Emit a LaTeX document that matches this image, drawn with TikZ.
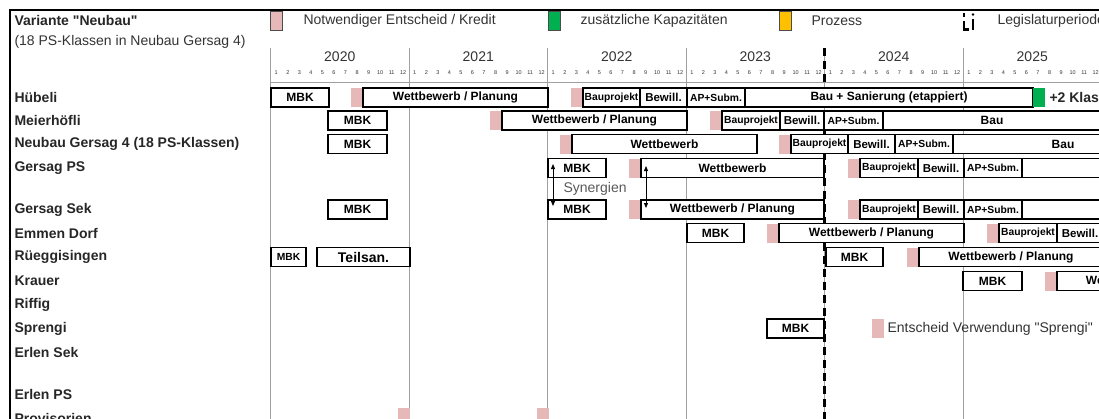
\documentclass[tikz,border=0pt]{standalone}
\usepackage{fontspec}
\setmainfont{Liberation Sans}[Ligatures=TeXOff]
\usetikzlibrary{arrows.meta}

\definecolor{kredit}{RGB}{230,184,183}
\definecolor{kapaz}{RGB}{0,176,80}
\definecolor{prozess}{RGB}{255,192,0}
\definecolor{raster}{RGB}{160,160,160}

% phase bar from x1 to x2 in row y
\newcommand{\phase}[6][]{%
  \node[phasebox,minimum width={#4pt-#3pt},#1] (#2) at ({(#3+#4)/2},#5) {#6};}
% decision mark, left edge at x
\newcommand{\kredit}[3]{%
  \node[kreditbox,anchor=west] (#1) at (#2,#3) {};}

\begin{document}
\begin{tikzpicture}[x=1pt,y=-1pt,
  phasebox/.style={draw,line width=1.4pt,fill=white,minimum height=19pt,inner sep=0pt,
    font=\bfseries\fontsize{12}{13}\selectfont},
  klein/.style={font=\bfseries\fontsize{10.3}{11}\selectfont},
  mittel/.style={font=\bfseries\fontsize{11.5}{12}\selectfont},
  kreditbox/.style={fill=kredit,minimum width=12pt,minimum height=19pt,inner sep=0pt},
  legende/.style={draw=black!70,line width=0.8pt,minimum width=12pt,minimum height=19pt,inner sep=0pt},
  zeile/.style={anchor=west,text=black!85,font=\bfseries\fontsize{14}{16}\selectfont},
  txt/.style={anchor=west,text=black!80,font=\fontsize{14}{16}\selectfont},
  raster/.style={draw=raster,line width=0.8pt},
  synergie/.style={{Triangle[width=4pt,length=5pt]}-{Triangle[width=4pt,length=5pt]},line width=0.8pt}]

\useasboundingbox (0,0) rectangle (1099,418);
\clip (0,0) rectangle (1099,418);

% frame
\draw[line width=1.8pt] (1100,10) -- (10,10) -- (10,420);

% title
\node[zeile] (titel) at (11,20) {Variante "Neubau"};
\node[txt] (untertitel) at (11,42) {(18 PS-Klassen in Neubau Gersag 4)};

% legend
\node[legende,fill=kredit] (lk) at (276.5,21) {};
\node[txt] (lkt) at (300,21) {Notwendiger Entscheid / Kredit};
\node[legende,fill=kapaz] (lg) at (554,21) {};
\node[txt] (lgt) at (577,21) {zusätzliche Kapazitäten};
\node[legende,fill=prozess] (lp) at (785,21) {};
\node[txt] (lpt) at (808,21) {Prozess};
\draw[line width=2.5pt] (964,13) -- (964,17);
\draw[line width=2.5pt] (964,21) -- (964,29.5) -- (969,29.5);
\draw[line width=2pt] (973,19) -- (973,30);
\fill (973,14.5) circle (1.3pt);
\node[txt] (llt) at (994,21) {Legislaturperiode};

% years and months
\foreach \j [count=\i from 0] in {2020,...,2025} {
  \draw[raster] (270.5+138.5*\i,48) -- (270.5+138.5*\i,420);
  \node[text=black!80,font=\fontsize{14}{16}\selectfont] (j\j) at (270.5+138.5*\i+69.25,57) {\j};
  \foreach \m in {1,...,12}
    \node[text=black!80,font=\fontsize{5.5}{6}\selectfont,inner sep=0pt] (m\j-\m)
      at (270.5+138.5*\i+11.54*\m-5.77,73) {\m};
}
\draw[raster] (270.5,82) -- (1100,82);
\draw[line width=3pt,dash pattern=on 8pt off 5pt] (824.5,48) -- (824.5,420);

% row labels
\foreach \name/\y [count=\i] in {Hübeli/97, Meierhöfli/120.5, {Neubau Gersag 4 (18 PS-Klassen)}/144,
    Gersag PS/168, Gersag Sek/209.5, Emmen Dorf/233, Rüeggisingen/257, Krauer/281,
    Riffig/305, Sprengi/328.5, Erlen Sek/352, Erlen PS/394, Provisorien/418}
  \node[zeile] (z\i) at (11,\y) {\name};

% Hübeli
\phase{h1}{271}{329}{97.5}{MBK}
\kredit{hk1}{351}{97.5}
\phase{h2}{363}{548}{97.5}{Wettbewerb / Planung}
\kredit{hk2}{571}{97.5}
\phase[klein]{h3}{583}{640}{97.5}{Bauprojekt}
\phase[mittel]{h4}{640}{687}{97.5}{Bewill.}
\phase[klein]{h5}{687}{745}{97.5}{AP+Subm.}
\phase{h6}{745}{1033}{97.5}{Bau + Sanierung (etappiert)}
\node[kreditbox,fill=kapaz,anchor=west] (hg) at (1033,97.5) {};
\node[zeile] (hplus) at (1046,97.5) {+2 Klassen};

% Meierhöfli
\phase{mh1}{328}{387}{120.5}{MBK}
\kredit{mk1}{490}{120.5}
\phase{mh2}{502}{687}{120.5}{Wettbewerb / Planung}
\kredit{mk2}{710}{120.5}
\phase[klein]{mh3}{722}{780}{120.5}{Bauprojekt}
\phase[mittel]{mh4}{780}{824}{120.5}{Bewill.}
\phase[klein]{mh5}{824}{883}{120.5}{AP+Subm.}
\phase{mh6}{883}{1101}{120.5}{Bau}

% Neubau Gersag 4
\phase{n1}{328}{387}{144}{MBK}
\kredit{nk1}{560}{144}
\phase{n2}{572}{757}{144}{Wettbewerb}
\kredit{nk2}{779}{144}
\phase[klein]{n3}{791}{848}{144}{Bauprojekt}
\phase[mittel]{n4}{848}{895}{144}{Bewill.}
\phase[klein]{n5}{895}{953}{144}{AP+Subm.}
\phase{n6}{953}{1173}{144}{Bau}

% Gersag PS
\phase{gp1}{548}{606}{168}{MBK}
\kredit{gpk1}{629}{168}
\phase{gp2}{641}{824}{168}{Wettbewerb}
\kredit{gpk2}{848}{168}
\phase[klein]{gp3}{860}{918}{168}{Bauprojekt}
\phase[mittel]{gp4}{918}{964}{168}{Bewill.}
\phase[klein]{gp5}{964}{1022}{168}{AP+Subm.}
\phase{gp6}{1022}{1140}{168}{}

% Gersag Sek
\phase{gs0}{328}{387}{209.5}{MBK}
\phase{gs1}{548}{606}{209.5}{MBK}
\kredit{gsk1}{629}{209.5}
\phase{gs2}{641}{824}{209.5}{Wettbewerb / Planung}
\kredit{gsk2}{848}{209.5}
\phase[klein]{gs3}{860}{918}{209.5}{Bauprojekt}
\phase[mittel]{gs4}{918}{964}{209.5}{Bewill.}
\phase[klein]{gs5}{964}{1022}{209.5}{AP+Subm.}
\phase{gs6}{1022}{1140}{209.5}{}

% Synergien
\coordinate (sy1) at (553,164);
\coordinate (sy2) at (553,206);
\coordinate (sy3) at (646,166);
\coordinate (sy4) at (646,208);
\draw[synergie] (sy1) -- (sy2);
\draw[synergie] (sy3) -- (sy4);
\node[txt,text=black!65] (syn) at (560,189) {Synergien};

% Emmen Dorf
\phase{e1}{687}{744}{233}{MBK}
\kredit{ek1}{767}{233}
\phase{e2}{779}{964}{233}{Wettbewerb / Planung}
\kredit{ek2}{987}{233}
\phase[klein]{e3}{999}{1057}{233}{Bauprojekt}
\phase[mittel]{e4}{1057}{1103}{233}{Bewill.}

% Rüeggisingen
\phase[klein]{r1}{271}{306}{257}{MBK}
\phase[font=\bfseries\fontsize{14}{16}\selectfont]{r2}{317}{410}{257}{Teilsan.}
\phase{r3}{826}{883}{257}{MBK}
\kredit{rk1}{907}{257}
\phase{r4}{919}{1103}{257}{Wettbewerb / Planung}

% Krauer
\phase{k1}{963}{1022}{281}{MBK}
\kredit{kk1}{1045}{281}
\phase{k2}{1057}{1240}{281}{Wettbewerb / Planung}

% Sprengi
\phase{s1}{767}{824}{328.5}{MBK}
\kredit{sk1}{872}{328.5}
\node[txt] (skt) at (884,328.5) {Entscheid Verwendung "Sprengi"};

% Provisorien
\node[kreditbox,anchor=north west] (pk1) at (398,408) {};
\node[kreditbox,anchor=north west] (pk2) at (537,408) {};
\end{tikzpicture}
\end{document}
